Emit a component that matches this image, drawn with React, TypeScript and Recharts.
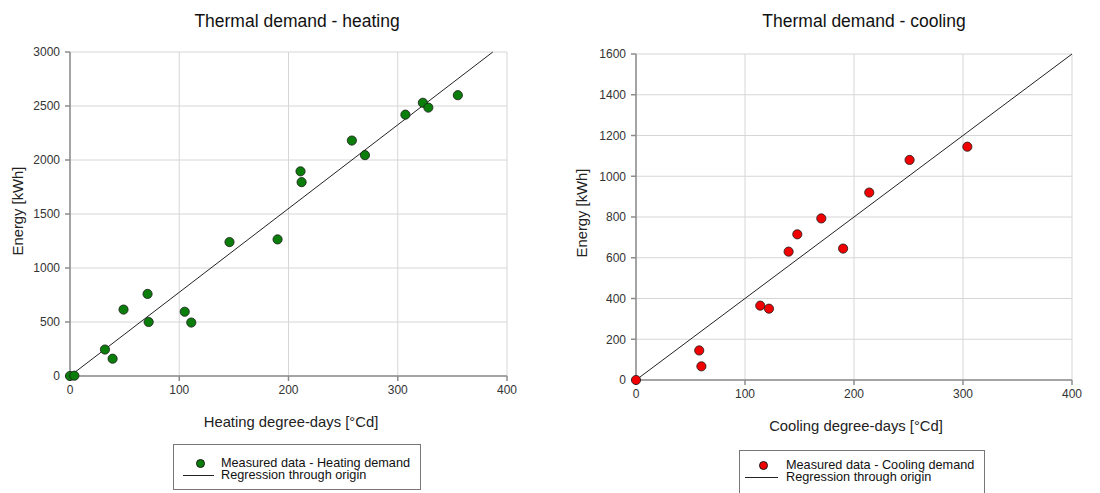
import React from "react";
import { ScatterChart, Scatter, XAxis, YAxis, CartesianGrid } from "recharts";

// Heating data
const heatingDegreeDays = [0, 4, 32, 39, 49, 71, 72, 105, 111, 146, 190, 211, 212, 258, 270, 307, 323, 328, 355];
const heatingEnergy = [0, 3, 245, 160, 615, 760, 500, 595, 495, 1240, 1265, 1895, 1795, 2180, 2045, 2420, 2530, 2485, 2600];
const heatingRegX = [0, 387];
const heatingRegY = [0, 3000];
const heatingXTicks = [0, 100, 200, 300, 400];
const heatingYTicks = [0, 500, 1000, 1500, 2000, 2500, 3000];

// Cooling data
const coolingDegreeDays = [0, 58, 60, 114, 122, 140, 148, 170, 190, 214, 251, 304];
const coolingEnergy = [0, 145, 67, 365, 350, 630, 715, 793, 645, 920, 1080, 1145];
const coolingRegX = [0, 400];
const coolingRegY = [0, 1600];
const coolingXTicks = [0, 100, 200, 300, 400];
const coolingYTicks = [0, 200, 400, 600, 800, 1000, 1200, 1400, 1600];

const FONT = "'Liberation Sans', Arial, sans-serif";
const heatingPts = heatingDegreeDays.map((x, i) => ({ x, y: heatingEnergy[i] }));
const heatingReg = heatingRegX.map((x, i) => ({ x, y: heatingRegY[i] }));
const coolingPts = coolingDegreeDays.map((x, i) => ({ x, y: coolingEnergy[i] }));
const coolingReg = coolingRegX.map((x, i) => ({ x, y: coolingRegY[i] }));

const tickStyle = { fontSize: 12, fill: "#333", fontFamily: FONT };
const axisLine = { stroke: "#8c8c8c", strokeWidth: 1.5 };

const Dot = (color: string) => (p: any) =>
  p.cx == null ? null : <circle cx={p.cx} cy={p.cy} r={4.6} fill={color} stroke="#1a1a1a" strokeWidth={0.8} />;

function Panel(props: any) {
  const { left, width, margin, pts, reg, xTicks, yTicks, yMax, color, title, titleX, xLabel, xLabelX, xLabelY, yLabelX, yLabelY, legend } = props;
  return (
    <div style={{ position: "absolute", left, top: 0, width, height: 493 }}>
      <ScatterChart width={width} height={493} margin={margin}>
        <CartesianGrid stroke="#d6d6d6" strokeWidth={1} />
        <XAxis type="number" dataKey="x" domain={[0, 400]} ticks={xTicks} interval={0} tick={tickStyle}
          axisLine={axisLine} tickLine={axisLine} tickSize={5} tickMargin={4} height={30} />
        <YAxis type="number" dataKey="y" domain={[0, yMax]} ticks={yTicks} interval={0} tick={tickStyle}
          axisLine={axisLine} tickLine={axisLine} tickSize={5} tickMargin={5} width={60} />
        <Scatter data={reg} line={{ stroke: "#222", strokeWidth: 1 }} shape={() => null} isAnimationActive={false} />
        <Scatter data={pts} shape={Dot(color)} isAnimationActive={false} />
      </ScatterChart>
      <div style={{ position: "absolute", left: titleX - 150, width: 300, top: 11, textAlign: "center", fontFamily: FONT, fontSize: 17.5, color: "#111" }}>{title}</div>
      <div style={{ position: "absolute", left: xLabelX - 150, width: 300, top: xLabelY - 9, textAlign: "center", fontFamily: FONT, fontSize: 14.8, color: "#222" }}>{xLabel}</div>
      <div style={{ position: "absolute", left: yLabelX - 100, width: 200, top: yLabelY - 9, textAlign: "center", fontFamily: FONT, fontSize: 14.8, color: "#222", transform: "rotate(-90deg)" }}>Energy [kWh]</div>
      <div style={{ position: "absolute", left: legend.left, top: legend.top, width: legend.width, height: legend.height, border: "1px solid #777", boxSizing: "border-box", fontFamily: FONT, fontSize: 12.7, color: "#111", background: "#fff" }}>
        <div style={{ position: "absolute", left: legend.markX - 4.5, top: legend.row1 - 4.5, width: 9, height: 9, borderRadius: "50%", background: color, border: "0.8px solid #1a1a1a", boxSizing: "border-box" }} />
        <div style={{ position: "absolute", left: legend.textX, top: legend.row1 - 8, whiteSpace: "nowrap", lineHeight: "16px" }}>{legend.label}</div>
        <div style={{ position: "absolute", left: legend.lineX1, top: legend.row2, width: legend.lineX2 - legend.lineX1, height: 1, background: "#222" }} />
        <div style={{ position: "absolute", left: legend.textX, top: legend.row2 - 8, whiteSpace: "nowrap", lineHeight: "16px" }}>Regression through origin</div>
      </div>
    </div>
  );
}

export default function App() {
  return (
    <div style={{ position: "fixed", left: 0, top: 0, width: 1100, height: 493, background: "#fff", overflow: "hidden" }}>
      <Panel left={0} width={550} margin={{ top: 52, right: 43, bottom: 87, left: 10 }}
        pts={heatingPts} reg={heatingReg} xTicks={heatingXTicks} yTicks={heatingYTicks} yMax={3000} color="#0b7d0b"
        title="Thermal demand - heating" titleX={297} xLabel="Heating degree-days [°Cd]" xLabelX={291} xLabelY={423}
        yLabelX={18} yLabelY={212}
        legend={{ left: 173, top: 444, width: 248, height: 46, markX: 26, row1: 18, row2: 30, textX: 47, lineX1: 9, lineX2: 40, label: "Measured data - Heating demand" }} />
      <Panel left={550} width={550} margin={{ top: 54, right: 28, bottom: 83, left: 26 }}
        pts={coolingPts} reg={coolingReg} xTicks={coolingXTicks} yTicks={coolingYTicks} yMax={1600} color="#f00000"
        title="Thermal demand - cooling" titleX={314} xLabel="Cooling degree-days [°Cd]" xLabelX={306} xLabelY={427}
        yLabelX={32} yLabelY={214}
        legend={{ left: 189, top: 450, width: 246, height: 60, markX: 23, row1: 14, row2: 26, textX: 46, lineX1: 5, lineX2: 38, label: "Measured data - Cooling demand" }} />
    </div>
  );
}
